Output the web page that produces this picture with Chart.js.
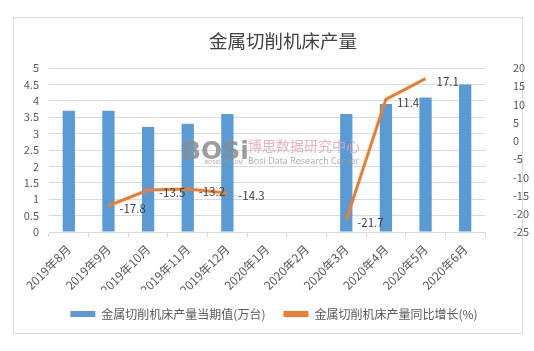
<!DOCTYPE html>
<html><head><meta charset="utf-8">
<script src="https://cdn.jsdelivr.net/npm/chart.js@4"></script>
<style>html,body{margin:0;padding:0;background:#fff}#wrap{width:534px;height:351px;position:relative}</style>
</head><body><div id="wrap"><canvas id="c" width="534" height="351"></canvas></div>
<script>
const categories = ['2019年8月','2019年9月','2019年10月','2019年11月','2019年12月','2020年1月','2020年2月','2020年3月','2020年4月','2020年5月','2020年6月'];
const outputValues = [3.7, 3.7, 3.2, 3.3, 3.6, null, null, 3.6, 3.9, 4.1, 4.5];
const growthValues = [null, -17.8, -13.5, -13.2, -14.3, null, null, -21.7, 11.4, 17.1, null];
const leftTicks = [0,0.5,1,1.5,2,2.5,3,3.5,4,4.5,5];
const rightTicks = [-25,-20,-15,-10,-5,0,5,10,15,20];
const titleText = '金属切削机床产量';
const seriesNames = ['金属切削机床产量当期值(万台)','金属切削机床产量同比增长(%)'];

const FONT = '"Noto Sans CJK SC", "Microsoft YaHei", sans-serif';

const decor = {
  id:'decor',
  beforeDraw(chart){
    const ctx = chart.ctx;
    ctx.save();
    ctx.fillStyle='#fff';ctx.fillRect(0,0,chart.width,chart.height);
    ctx.strokeStyle='#d9d9d9';ctx.lineWidth=1;
    ctx.strokeRect(13.5,17.5,509,316);
    ctx.fillStyle='#404040';
    ctx.font='18.5px '+FONT;
    ctx.textAlign='center';ctx.textBaseline='middle';
    ctx.fillText(titleText,283,41);
    ctx.restore();
  },
  afterDatasetsDraw(chart){
    const ctx = chart.ctx;
    ctx.save();
    // watermark
    ctx.globalAlpha=0.85;
    ctx.fillStyle='#8c8c8c';
    ctx.font='bold 25px "DejaVu Sans", sans-serif';
    ctx.textAlign='left';ctx.textBaseline='middle';
    ctx.fillText('BOSi',182,152);
    ctx.fillStyle='#999';
    ctx.font='5px sans-serif';
    ctx.fillText('BOSIDATA.COM',205,163);
    ctx.fillStyle='#e8a3b4';
    ctx.font='14px '+FONT;
    ctx.fillText('博思数据研究中心',248,146);
    ctx.fillStyle='#9a9a9a';
    ctx.font='9px "Open Sans", sans-serif';
    ctx.fillText('Bosi Data Research Center',248,161);
    ctx.globalAlpha=1;
    // data labels for line
    const meta = chart.getDatasetMeta(1);
    ctx.fillStyle='#404040';
    ctx.font='11.5px '+FONT;
    ctx.textAlign='left';ctx.textBaseline='middle';
    meta.data.forEach((pt,i)=>{
      const v = growthValues[i];
      if(v===null) return;
      ctx.fillText(v.toFixed(1),pt.x+11,pt.y+3);
    });
    ctx.restore();
  }
};

new Chart(document.getElementById('c'),{
  data:{
    labels:categories,
    datasets:[
      {type:'bar',label:seriesNames[0],data:outputValues,backgroundColor:'#5b9bd5',yAxisID:'y',barPercentage:0.62,categoryPercentage:0.5,order:2},
      {type:'line',label:seriesNames[1],data:growthValues,borderColor:'#ed7d31',backgroundColor:'#ed7d31',borderWidth:3,pointRadius:0,tension:0,spanGaps:false,yAxisID:'y1',order:1}
    ]
  },
  options:{
    responsive:false,animation:false,
    layout:{padding:{left:14,right:0,top:68,bottom:21}},
    plugins:{
      title:{display:false},
      tooltip:{enabled:false},
      legend:{position:'bottom',
        labels:{color:'#595959',font:{family:FONT,size:12},boxWidth:25,boxHeight:6,padding:18,
          generateLabels(chart){
            const items = Chart.defaults.plugins.legend.labels.generateLabels(chart);
            items.sort((a,b)=>a.datasetIndex-b.datasetIndex);
            items.forEach(it=>{
              it.lineWidth=0;
              if(it.datasetIndex===1){it.fillStyle='#ed7d31';} else {it.fillStyle='#5b9bd5';}
            });
            return items;
          }}
      }
    },
    scales:{
      x:{grid:{display:true,drawOnChartArea:false,color:'#d9d9d9',tickLength:5},border:{color:'#d9d9d9'},
         ticks:{color:'#595959',font:{family:FONT,size:12},maxRotation:45,minRotation:45,autoSkip:false,padding:5},
         afterFit(s){s.height=58;}},
      y:{position:'left',min:0,max:5,afterBuildTicks(ax){ax.ticks=leftTicks.map(v=>({value:v}));},
         grid:{color:'#d9d9d9',drawTicks:false},border:{display:false},
         ticks:{color:'#595959',font:{family:FONT,size:11},padding:10,autoSkip:false,callback:v=>String(v)},
         afterFit(s){s.width=35;}},
      y1:{position:'right',min:-25,max:20,afterBuildTicks(ax){ax.ticks=rightTicks.map(v=>({value:v}));},
         grid:{display:false,drawTicks:false},border:{display:false},
         ticks:{color:'#595959',font:{family:FONT,size:11},padding:28,autoSkip:false,callback:v=>String(v)},
         afterFit(s){s.width=49;}}
    }
  },
  plugins:[decor]
});
</script></body></html>
